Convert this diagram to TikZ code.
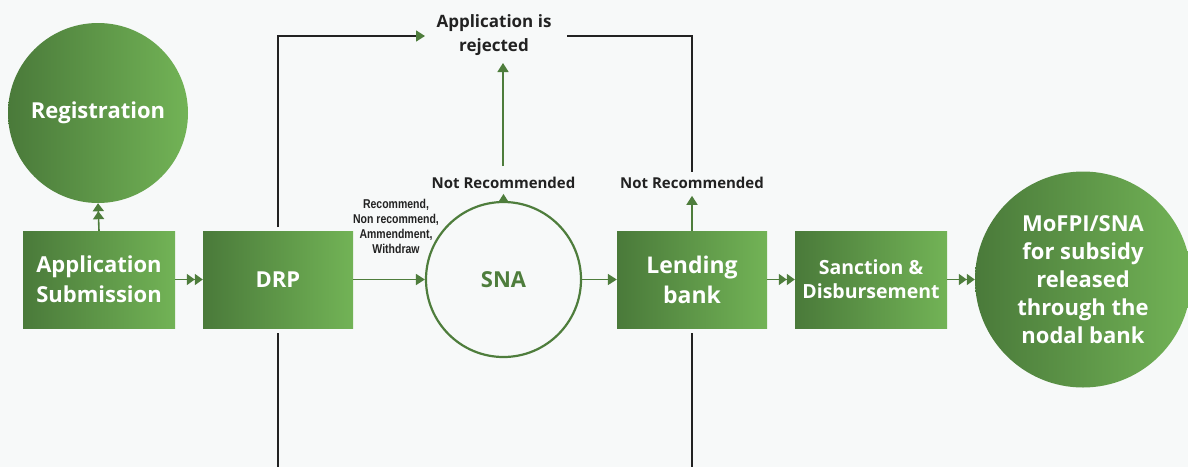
\documentclass[tikz,border=0pt]{standalone}
\usepackage{fontspec}
\setmainfont{Open Sans}
\newfontfamily\narrowfont[FakeStretch=0.82]{Liberation Sans}
\usetikzlibrary{arrows.meta}
\definecolor{gdark}{HTML}{4A7A3A}
\definecolor{glight}{HTML}{72B356}
\definecolor{garrow}{HTML}{4E7D3C}
\definecolor{bgc}{HTML}{F7F9F9}
\definecolor{txt}{HTML}{222222}
\begin{document}
\begin{tikzpicture}[x=1pt,y=-1pt,
 gbox/.style={rectangle, minimum width=152pt, minimum height=97pt, left color=gdark, right color=glight, text=white, font=\bfseries\fontsize{22}{30}\selectfont, align=center, inner sep=0pt},
 gcirc/.style={circle, left color=gdark, right color=glight, text=white, align=center, inner sep=0pt},
 arr/.style={draw=garrow, line width=1.6pt, -{Triangle[length=9pt,width=11pt]}},
 darr/.style={draw=garrow, line width=1.6pt, -{Triangle[length=8pt,width=11pt] Triangle[length=8pt,width=11pt]}},
 blk/.style={draw=txt, line width=1.6pt},
 lbl/.style={text=txt, font=\bfseries\fontsize{15}{17}\selectfont, inner sep=0pt},
]
\fill[bgc] (0,0) rectangle (1188,467);
\useasboundingbox (0,0) rectangle (1188,467);

% nodes
\node[gcirc, minimum size=180pt, font=\bfseries\fontsize{22}{30}\selectfont] (reg) at (98,113) {Registration};
\node[gbox] (app) at (99,279.5) {Application\\Submission};
\node[gbox, minimum width=150pt] (drp) at (278,279.5) {DRP};
\node[circle, draw=garrow, line width=2.2pt, fill=bgc, minimum size=155pt, inner sep=0pt, text=garrow, font=\bfseries\fontsize{22}{30}\selectfont] (sna) at (503.5,279.5) {SNA};
\node[gbox, minimum width=150pt, font=\bfseries\fontsize{23}{30}\selectfont] (lend) at (692,279.5) {Lending\\bank};
\node[gbox, font=\bfseries\fontsize{19.5}{24}\selectfont] (sanc) at (871,279.5) {Sanction \&\\Disbursement};
\node[gcirc, minimum size=216pt, font=\bfseries\fontsize{22}{28}\selectfont] (mof) at (1083,279.5) {MoFPI/SNA\\for subsidy\\released\\through the\\nodal bank};

\node[text=txt, font=\bfseries\fontsize{17}{24}\selectfont, align=center, inner sep=0pt] (rej) at (494,35) {Application is\\rejected};
\node[lbl] (nr1) at (503.5,183) {Not Recommended};
\node[lbl] (nr2) at (692,183) {Not Recommended};
\node[text=txt, font=\narrowfont\bfseries\fontsize{12.8}{15}\selectfont, align=center, inner sep=0pt] (opts) at (396,226) {Recommend,\\Non recommend,\\Ammendment,\\Withdraw};

\coordinate (rejL) at (425,36);
\coordinate (rejR) at (567,36);
\coordinate (drpTop) at (278,227);
\coordinate (lendTop) at (692,172);
\coordinate (drpBot) at (278,333);
\coordinate (lendBot) at (692,333);
\coordinate (drpEnd) at (278,467);
\coordinate (lendEnd) at (692,467);
\coordinate (rejBot) at (503,63);
\coordinate (nr1Top) at (503,166);

% connectors
\draw[darr] (app.north) -- (reg.south);
\draw[darr] (app.east) -- (drp.west);
\draw[arr] (drp.east) -- (sna.west);
\draw[arr] (sna.east) -- (lend.west);
\draw[darr] (lend.east) -- (sanc.west);
\draw[darr] (sanc.east) -- (mof.west);
\draw[arr] (sna.north) -- ++(0,-7);
\draw[arr] (lend.north) -- ++(0,-35);
\draw[arr] (nr1Top) -- (rejBot);
\draw[blk, -{Triangle[length=9pt,width=11pt,color=garrow]}] (drpTop) |- (rejL);
\draw[blk] (rejR) -| (lendTop);
\draw[blk] (drpBot) -- (drpEnd);
\draw[blk] (lendBot) -- (lendEnd);
\end{tikzpicture}
\end{document}
